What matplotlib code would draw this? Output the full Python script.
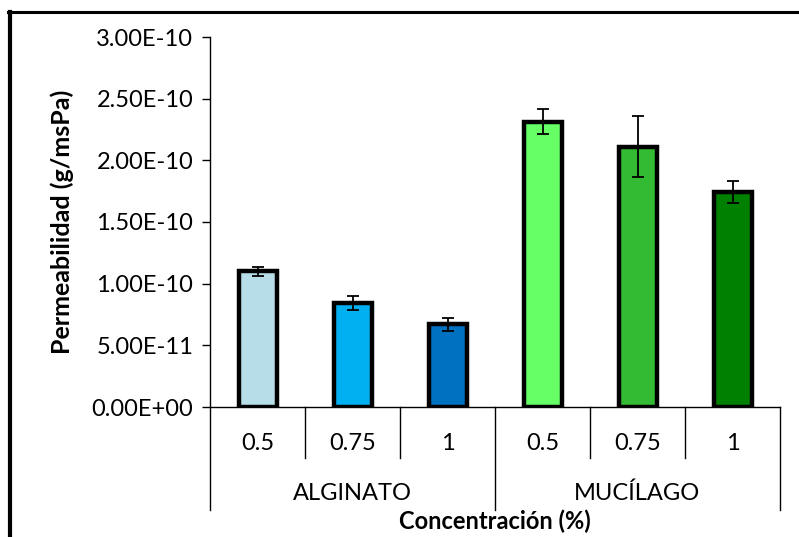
import matplotlib
matplotlib.use("Agg")
import matplotlib.pyplot as plt
from matplotlib.ticker import FixedLocator, FixedFormatter
from matplotlib.transforms import blended_transform_factory
from matplotlib.lines import Line2D

plt.rcParams['font.family'] = ['Lato', 'DejaVu Sans']

# Data
groups = ["ALGINATO", "MUCÍLAGO"]
concentrations = ["0.5", "0.75", "1"]
alginato_vals = [1.10e-10, 0.843e-10, 0.670e-10]
alginato_err = [0.035e-10, 0.058e-10, 0.052e-10]
mucilago_vals = [2.314e-10, 2.111e-10, 1.746e-10]
mucilago_err = [0.10e-10, 0.25e-10, 0.088e-10]
bar_colors = ["#B7DEE8", "#00B0F0", "#0070C0", "#66FF66", "#33BB33", "#008000"]
y_ticks = [0.0, 0.5e-10, 1.0e-10, 1.5e-10, 2.0e-10, 2.5e-10, 3.0e-10]
y_tick_labels = [f"{v:.2E}" for v in y_ticks]

values = alginato_vals + mucilago_vals
errors = alginato_err + mucilago_err
labels = concentrations * len(groups)
x = list(range(len(values)))

FS = 17

W, H = 799, 537
fig = plt.figure(figsize=(W / 100, H / 100), dpi=100)
ax = fig.add_axes([210 / W, 1 - 407 / H, 570 / W, 370 / H])

ax.bar(x, values, width=0.4, color=bar_colors, edgecolor="black", linewidth=3.2,
       yerr=errors, error_kw=dict(ecolor="black", elinewidth=1.3, capsize=4.5, capthick=1.3),
       zorder=3)

ax.set_xlim(-0.5, len(values) - 0.5)
ax.set_ylim(y_ticks[0], y_ticks[-1])
ax.yaxis.set_major_locator(FixedLocator(y_ticks))
ax.yaxis.set_major_formatter(FixedFormatter(y_tick_labels))
ax.tick_params(axis="y", direction="out", length=6, width=1, labelsize=FS, pad=6, colors="black")
ax.set_xticks([])

for side in ("top", "right"):
    ax.spines[side].set_visible(False)
ax.spines["left"].set_linewidth(1.0)
ax.spines["bottom"].set_linewidth(1.0)

# Multi-level category axis
tr = blended_transform_factory(ax.transData, ax.transAxes)
inner_depth = -51 / 370
outer_depth = -103 / 370
for i in range(len(values) + 1):
    xb = i - 0.5
    depth = outer_depth if i % len(concentrations) == 0 else inner_depth
    ax.add_line(Line2D([xb, xb], [0, depth], transform=tr, color="black", lw=1.0, clip_on=False))
for xi, lab in zip(x, labels):
    ax.text(xi, -36 / 370, lab, transform=tr, ha="center", va="center", fontsize=FS)
n = len(concentrations)
for gi, g in enumerate(groups):
    xc = gi * n + (n - 1) / 2
    ax.text(xc, -86 / 370, g, transform=tr, ha="center", va="center", fontsize=FS)

ax.text(0.5, -114 / 370, "Concentración (%)", transform=ax.transAxes, ha="center", va="center",
        fontsize=FS, fontweight="bold")
fig.text(62 / W, 1 - 222 / H, "Permeabilidad (g/msPa)", rotation=90, ha="center", va="center",
         fontsize=18, fontweight="bold")

# Chart frame (left and top edges)
fig.add_artist(Line2D([10 / W, 10 / W], [0, 1 - 12 / H], transform=fig.transFigure, color="black", lw=3.0))
fig.add_artist(Line2D([8 / W, 1], [1 - 12 / H, 1 - 12 / H], transform=fig.transFigure, color="black", lw=2.2))

fig.savefig("out.png", dpi=100)
